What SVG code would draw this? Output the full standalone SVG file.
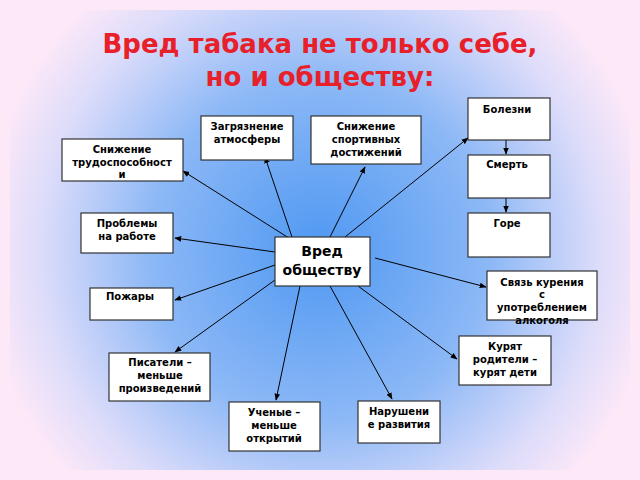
<svg xmlns="http://www.w3.org/2000/svg" width="640" height="480" viewBox="0 0 640 480">
<defs>
<radialGradient id="bg" cx="320" cy="250" r="340" gradientUnits="userSpaceOnUse">
<stop offset="0" stop-color="#4f98f2"/><stop offset="0.5" stop-color="#8cb8f6"/><stop offset="0.82" stop-color="#dcdcfa"/><stop offset="1" stop-color="#fde8f8"/>
</radialGradient>
<marker id="a" viewBox="0 0 10 10" refX="9" refY="5" markerWidth="7" markerHeight="7" orient="auto"><path d="M0,1 L10,5 L0,9 z" fill="#000"/></marker>
</defs>
<style>
.b{fill:#fff;stroke:#333;stroke-width:1.2}
.t{font-family:"DejaVu Sans",sans-serif;font-weight:bold;font-size:10px;text-anchor:middle;fill:#000}
.big{font-size:14px}
.h{font-family:"DejaVu Sans",sans-serif;font-weight:bold;font-size:26px;fill:#e8202a;text-anchor:middle}
.c line{stroke:#000;stroke-width:1;marker-end:url(#a)}
</style>
<rect width="640" height="480" fill="#fde8f8"/>
<rect x="10" y="10" width="620" height="460" fill="url(#bg)"/>
<text class="h" x="320" y="53">Вред табака не только  себе,</text>
<text class="h" x="320" y="86">но и обществу:</text>
<g class="c">
<line x1="292" y1="237" x2="265" y2="157"/>
<line x1="330" y1="237" x2="365" y2="167"/>
<line x1="292" y1="240" x2="183" y2="171"/>
<line x1="345" y1="237" x2="468" y2="138"/>
<line x1="275" y1="252" x2="175" y2="238"/>
<line x1="275" y1="265" x2="175" y2="300"/>
<line x1="375" y1="258" x2="486" y2="287"/>
<line x1="275" y1="280" x2="175" y2="352"/>
<line x1="300" y1="286" x2="276" y2="400"/>
<line x1="330" y1="286" x2="392" y2="399"/>
<line x1="358" y1="286" x2="457" y2="359"/>
<line x1="506" y1="140" x2="506" y2="154"/>
<line x1="506" y1="198" x2="506" y2="212"/>
</g>
<g id="bolezni"><rect class="b" x="468" y="98" width="82" height="42"/><text class="t" x="507" y="113">Болезни</text></g>
<g id="zagr"><rect class="b" x="201" y="116" width="92" height="44"/><text class="t" x="247" y="130">Загрязнение</text><text class="t" x="247" y="143">атмосферы</text></g>
<g id="sport"><rect class="b" x="311" y="116" width="110" height="48"/><text class="t" x="366" y="130">Снижение</text><text class="t" x="366" y="143">спортивных</text><text class="t" x="366" y="156">достижений</text></g>
<g id="trud"><rect class="b" x="62" y="139" width="121" height="42"/><text class="t" x="122" y="153">Снижение</text><text class="t" x="122" y="166">трудоспособност</text><text class="t" x="122" y="178">и</text></g>
<g id="smert"><rect class="b" x="468" y="155" width="82" height="43"/><text class="t" x="507" y="168">Смерть</text></g>
<g id="probl"><rect class="b" x="81" y="213" width="92" height="40"/><text class="t" x="127" y="227">Проблемы</text><text class="t" x="127" y="240">на работе</text></g>
<g id="gore"><rect class="b" x="468" y="213" width="82" height="44"/><text class="t" x="507" y="227">Горе</text></g>
<g id="center"><rect class="b" x="275" y="237" width="95" height="49"/><text class="t big" x="322" y="256">Вред</text><text class="t big" x="322" y="275">обществу</text></g>
<g id="svyaz"><rect class="b" x="487" y="271" width="110" height="49"/><text class="t" x="542" y="286">Связь курения</text><text class="t" x="542" y="298">с</text><text class="t" x="542" y="311">употреблением</text><text class="t" x="542" y="324">алкоголя</text></g>
<g id="pozhar"><rect class="b" x="90" y="288" width="83" height="32"/><text class="t" x="130" y="300">Пожары</text></g>
<g id="kuryat"><rect class="b" x="459" y="336" width="92" height="49"/><text class="t" x="505" y="350">Курят</text><text class="t" x="505" y="363">родители –</text><text class="t" x="505" y="376">курят дети</text></g>
<g id="pisat"><rect class="b" x="109" y="353" width="101" height="48"/><text class="t" x="160" y="366">Писатели –</text><text class="t" x="160" y="379">меньше</text><text class="t" x="160" y="392">произведений</text></g>
<g id="uchen"><rect class="b" x="229" y="402" width="91" height="49"/><text class="t" x="274" y="416">Ученые –</text><text class="t" x="274" y="429">меньше</text><text class="t" x="274" y="442">открытий</text></g>
<g id="narush"><rect class="b" x="358" y="401" width="82" height="42"/><text class="t" x="399" y="415">Нарушени</text><text class="t" x="399" y="428">е развития</text></g>
</svg>
